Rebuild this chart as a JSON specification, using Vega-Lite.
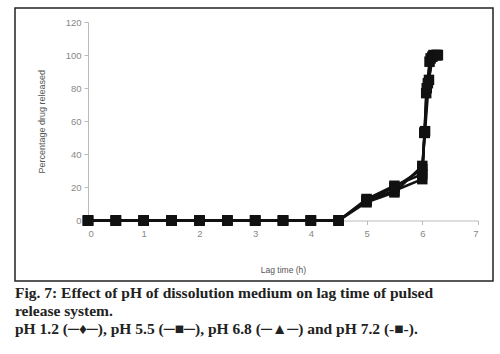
{
  "$schema": "https://vega.github.io/schema/vega-lite/v6.json",
  "autosize": {"type": "none"},
  "width": 478,
  "height": 273,
  "padding": {"left": 15, "top": 8, "right": 7, "bottom": 73},
  "background": "white",
  "config": {
    "view": {"stroke": "#222", "strokeWidth": 1.5},
    "font": "Liberation Sans"
  },
  "title": {
    "text": ["Fig. 7: Effect of pH of dissolution medium on lag time of pulsed", "release system.", "pH 1.2 (─♦─), pH 5.5 (─■─), pH 6.8 (─▲─) and pH 7.2 (-■-)."],
    "orient": "bottom",
    "anchor": "start",
    "font": "Liberation Serif",
    "fontSize": 15.5,
    "fontWeight": "bold",
    "color": "#222",
    "lineHeight": 18,
    "offset": 5
  },
  "data": {
    "values": [
      {"t": 0, "v": 0, "s": "pH 1.2"}, {"t": 0.5, "v": 0, "s": "pH 1.2"}, {"t": 1, "v": 0, "s": "pH 1.2"}, {"t": 1.5, "v": 0, "s": "pH 1.2"}, {"t": 2, "v": 0, "s": "pH 1.2"}, {"t": 2.5, "v": 0, "s": "pH 1.2"}, {"t": 3, "v": 0, "s": "pH 1.2"}, {"t": 3.5, "v": 0, "s": "pH 1.2"}, {"t": 4, "v": 0, "s": "pH 1.2"}, {"t": 4.5, "v": 0, "s": "pH 1.2"},
      {"t": 5, "v": 12, "s": "pH 1.2"}, {"t": 5.5, "v": 18, "s": "pH 1.2"}, {"t": 6, "v": 25, "s": "pH 1.2"}, {"t": 6.04, "v": 53, "s": "pH 1.2"}, {"t": 6.07, "v": 77, "s": "pH 1.2"}, {"t": 6.13, "v": 96, "s": "pH 1.2"}, {"t": 6.25, "v": 100, "s": "pH 1.2"},
      {"t": 0, "v": 0, "s": "pH 5.5"}, {"t": 0.5, "v": 0, "s": "pH 5.5"}, {"t": 1, "v": 0, "s": "pH 5.5"}, {"t": 1.5, "v": 0, "s": "pH 5.5"}, {"t": 2, "v": 0, "s": "pH 5.5"}, {"t": 2.5, "v": 0, "s": "pH 5.5"}, {"t": 3, "v": 0, "s": "pH 5.5"}, {"t": 3.5, "v": 0, "s": "pH 5.5"}, {"t": 4, "v": 0, "s": "pH 5.5"}, {"t": 4.5, "v": 0, "s": "pH 5.5"},
      {"t": 5, "v": 13, "s": "pH 5.5"}, {"t": 5.5, "v": 21, "s": "pH 5.5"}, {"t": 6, "v": 28, "s": "pH 5.5"}, {"t": 6.04, "v": 53, "s": "pH 5.5"}, {"t": 6.08, "v": 80, "s": "pH 5.5"}, {"t": 6.15, "v": 98, "s": "pH 5.5"}, {"t": 6.25, "v": 100, "s": "pH 5.5"},
      {"t": 0, "v": 0, "s": "pH 6.8"}, {"t": 0.5, "v": 0, "s": "pH 6.8"}, {"t": 1, "v": 0, "s": "pH 6.8"}, {"t": 1.5, "v": 0, "s": "pH 6.8"}, {"t": 2, "v": 0, "s": "pH 6.8"}, {"t": 2.5, "v": 0, "s": "pH 6.8"}, {"t": 3, "v": 0, "s": "pH 6.8"}, {"t": 3.5, "v": 0, "s": "pH 6.8"}, {"t": 4, "v": 0, "s": "pH 6.8"}, {"t": 4.5, "v": 0, "s": "pH 6.8"},
      {"t": 5, "v": 11, "s": "pH 6.8"}, {"t": 5.5, "v": 17, "s": "pH 6.8"}, {"t": 6, "v": 33, "s": "pH 6.8"}, {"t": 6.05, "v": 54, "s": "pH 6.8"}, {"t": 6.12, "v": 85, "s": "pH 6.8"}, {"t": 6.18, "v": 99, "s": "pH 6.8"}, {"t": 6.27, "v": 100, "s": "pH 6.8"},
      {"t": 0, "v": 0, "s": "pH 7.2"}, {"t": 0.5, "v": 0, "s": "pH 7.2"}, {"t": 1, "v": 0, "s": "pH 7.2"}, {"t": 1.5, "v": 0, "s": "pH 7.2"}, {"t": 2, "v": 0, "s": "pH 7.2"}, {"t": 2.5, "v": 0, "s": "pH 7.2"}, {"t": 3, "v": 0, "s": "pH 7.2"}, {"t": 3.5, "v": 0, "s": "pH 7.2"}, {"t": 4, "v": 0, "s": "pH 7.2"}, {"t": 4.5, "v": 0, "s": "pH 7.2"},
      {"t": 5, "v": 12, "s": "pH 7.2"}, {"t": 5.5, "v": 20, "s": "pH 7.2"}, {"t": 6, "v": 31, "s": "pH 7.2"}, {"t": 6.04, "v": 53, "s": "pH 7.2"}, {"t": 6.1, "v": 83, "s": "pH 7.2"}, {"t": 6.2, "v": 100, "s": "pH 7.2"}, {"t": 6.28, "v": 100, "s": "pH 7.2"}
    ]
  },
  "mark": {
    "type": "line",
    "strokeWidth": 2.5,
    "point": {"shape": "square", "filled": true, "size": 110, "opacity": 1}
  },
  "encoding": {
    "x": {
      "field": "t", "type": "quantitative",
      "scale": {"domain": [0, 7], "range": [73, 463], "nice": false},
      "axis": {
        "title": "Lag time (h)", "values": [0,1,2,3,4,5,6,7], "offset": -60.5,
        "grid": false, "domainColor": "#bbb", "tickColor": "#bbb", "tickSize": 4,
        "labelColor": "#888", "labelFontSize": 9.5, "labelPadding": 4,
        "titleFontSize": 8.5, "titleFontWeight": "normal", "titleColor": "#555", "titlePadding": 27
      }
    },
    "y": {
      "field": "v", "type": "quantitative",
      "scale": {"domain": [0, 120], "range": [212.5, 14], "nice": false},
      "axis": {
        "title": "Percentage drug released", "values": [0,20,40,60,80,100,120], "offset": -73,
        "grid": false, "domainColor": "#bbb", "tickColor": "#bbb", "tickSize": 4,
        "labelColor": "#888", "labelFontSize": 9.5, "labelPadding": 3,
        "titleFontSize": 9, "titleFontWeight": "normal", "titleColor": "#555", "titlePadding": 19
      }
    },
    "detail": {"field": "s", "type": "nominal"},
    "color": {"value": "#111"}
  }
}
